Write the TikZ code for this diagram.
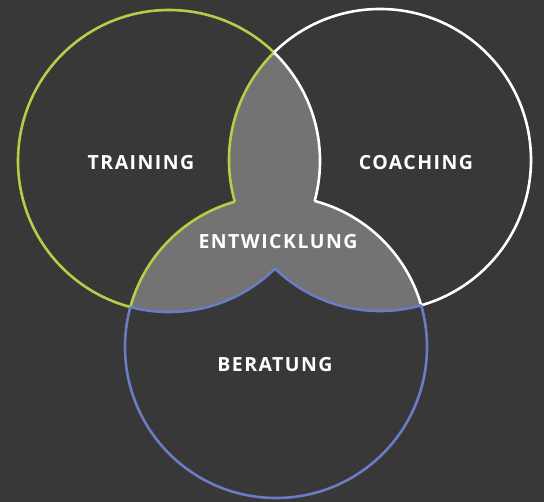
\documentclass[tikz,border=0pt]{standalone}
\usepackage{fontspec}
\newfontfamily\lblfont{Open Sans}[LetterSpace=7.5]
\usetikzlibrary{positioning}

\definecolor{bgcol}{HTML}{383838}
\definecolor{lenscol}{HTML}{737373}
\definecolor{traincol}{HTML}{B5CE48}
\definecolor{coachcol}{HTML}{FFFFFF}
\definecolor{beratcol}{HTML}{6A7CC4}

\tikzset{
  ring/.style={line width=2.6pt},
  % frame drawn clockwise, circle counter-clockwise: nonzero rule cuts the disc out
  outside/.style={insert path={(0,0) -- (0,502) -- (544,502) -- (544,0) -- cycle (#1) circle (\rad)}},
  lbl/.style={text=white,font=\lblfont\bfseries\fontsize{19.5}{21}\selectfont}
}
\newcommand{\rad}{151}

\begin{document}
\begin{tikzpicture}[x=1pt,y=-1pt]
\useasboundingbox (0,0) rectangle (544,502);
\fill[bgcol] (0,0) rectangle (544,502);
\coordinate (tr) at (169,161);
\coordinate (co) at (380,160);
\coordinate (be) at (276,347);

% overlap areas
\begin{scope}
  \clip (tr) circle (\rad);
  \fill[lenscol] (co) circle (\rad) (be) circle (\rad);
\end{scope}
\begin{scope}
  \clip (co) circle (\rad);
  \fill[lenscol] (be) circle (\rad);
\end{scope}

% training
\begin{scope}
  \clip[outside=co];
  \clip[outside=be];
  \draw[ring,traincol] (tr) circle (\rad);
\end{scope}
\begin{scope}
  \clip (tr) circle (\rad);
  \begin{scope}
    \clip[outside=be];
    \draw[ring,traincol] (co) circle (\rad);
  \end{scope}
  \clip[outside=co];
  \draw[ring,traincol] (be) circle (\rad);
\end{scope}

% coaching
\begin{scope}
  \clip[outside=tr];
  \clip[outside=be];
  \draw[ring,coachcol] (co) circle (\rad);
\end{scope}
\begin{scope}
  \clip (co) circle (\rad);
  \begin{scope}
    \clip[outside=be];
    \draw[ring,coachcol] (tr) circle (\rad);
  \end{scope}
  \clip[outside=tr];
  \draw[ring,coachcol] (be) circle (\rad);
\end{scope}

% beratung
\begin{scope}
  \clip[outside=tr];
  \clip[outside=co];
  \draw[ring,beratcol] (be) circle (\rad);
\end{scope}
\begin{scope}
  \clip (be) circle (\rad);
  \begin{scope}
    \clip[outside=co];
    \draw[ring,beratcol] (tr) circle (\rad);
  \end{scope}
  \clip[outside=tr];
  \draw[ring,beratcol] (co) circle (\rad);
\end{scope}

\node[lbl] (training) at (141,163) {TRAINING};
\node[lbl] (coaching) at (416,163) {COACHING};
\node[lbl] (entwicklung) at (278,242) {ENTWICKLUNG};
\node[lbl] (beratung) at (275,365) {BERATUNG};
\end{tikzpicture}
\end{document}
